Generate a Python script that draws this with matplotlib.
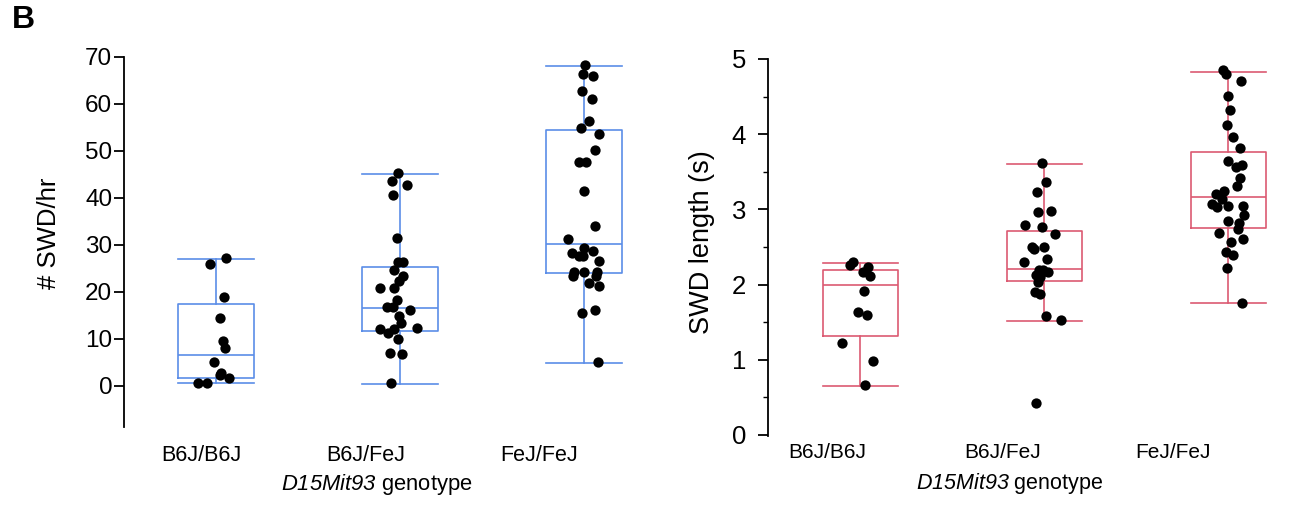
"""
SWD count / length by D15Mit93 genotype (panel B)
"""
import matplotlib
matplotlib.use("Agg")
import matplotlib.pyplot as plt
import numpy as np

plt.rcParams["font.family"] = ["Liberation Sans", "DejaVu Sans"]
plt.rcParams["mathtext.fontset"] = "custom"
plt.rcParams["mathtext.sf"] = "Liberation Sans:italic"
plt.rcParams["mathtext.rm"] = "Liberation Sans"

W, H, DPI = 1290, 507, 100

BLUE = "#5b8de8"
RED = "#dc5a72"

genotypes = ["B6J/B6J", "B6J/FeJ", "FeJ/FeJ"]

# ---- # SWD/hr ------------------------------------------------------------
rate_b6b6 = [27.1, 25.9, 18.9, 14.5, 9.6, 8.0, 5.0, 2.8, 2.4, 1.6, 0.6, 0.6]
rate_b6fe = [45.2, 43.6, 42.8, 40.5, 31.4, 26.3, 26.3, 24.6, 23.4, 22.3, 20.9,
             20.9, 18.2, 16.8, 16.8, 16.1, 14.8, 13.4, 12.1, 12.0, 12.3, 11.3,
             9.9, 7.0, 6.8, 0.5]
rate_fefe = [68.2, 66.3, 66.0, 62.7, 61.1, 56.4, 54.9, 53.6, 50.1, 47.6, 47.6,
             41.5, 34.0, 31.2, 29.3, 28.3, 28.7, 27.6, 27.6, 26.5, 24.3, 24.3,
             24.3, 23.3, 23.3, 21.9, 21.2, 15.4, 16.1, 5.0]
# horizontal jitter as seen in the figure (category units)
rate_jit_b6b6 = [0.054, -0.033, 0.045, 0.022, 0.040, 0.050, -0.011, 0.025,
                 0.022, 0.069, -0.098, -0.050]
rate_jit_b6fe = [-0.012, -0.043, 0.037, -0.039, -0.014, -0.010, 0.019, -0.035,
                 0.019, -0.003, -0.106, -0.034, -0.015, -0.068, -0.039, 0.057,
                 -0.006, 0.006, -0.111, -0.030, 0.090, -0.066, -0.012, -0.057,
                 0.010, -0.048]
rate_jit_fefe = [0.005, -0.005, 0.050, -0.010, 0.043, 0.026, -0.019, 0.081,
                 0.061, -0.028, 0.012, -0.001, 0.062, -0.088, -0.001, -0.064,
                 0.050, -0.028, -0.003, 0.079, -0.052, -0.001, 0.072, -0.061,
                 0.066, 0.026, 0.079, -0.012, 0.061, 0.075]
# box stats: whisker low, q1, median, q3, whisker high
rate_whislo = [0.7, 0.4, 4.9]
rate_q1 = [1.6, 11.7, 24.0]
rate_med = [6.6, 16.5, 30.1]
rate_q3 = [17.5, 25.3, 54.4]
rate_whishi = [26.9, 45.0, 68.0]

# ---- SWD length (s) ------------------------------------------------------
len_b6b6 = [2.30, 2.26, 2.24, 2.17, 2.11, 1.92, 1.63, 1.59, 1.22, 0.99, 0.66]
len_b6fe = [3.62, 3.36, 3.23, 2.97, 2.98, 2.79, 2.76, 2.67, 2.50, 2.50, 2.47,
            2.34, 2.30, 2.20, 2.19, 2.17, 2.13, 2.10, 2.03, 1.90, 1.88, 1.58,
            1.53, 0.43, 2.15, 2.18]
len_fefe = [4.86, 4.80, 4.71, 4.51, 4.32, 4.12, 3.96, 3.82, 3.64, 3.57, 3.59,
            3.42, 3.31, 3.21, 3.24, 3.14, 3.07, 3.03, 3.05, 3.05, 2.92, 2.84,
            2.82, 2.74, 2.68, 2.56, 2.60, 2.43, 2.39, 2.22, 1.76]
len_jit_b6b6 = [-0.041, -0.055, 0.043, 0.017, 0.050, 0.021, -0.015, 0.037,
                -0.100, 0.068, 0.026]
len_jit_b6fe = [-0.013, 0.011, -0.042, -0.036, 0.036, -0.103, -0.011, 0.058,
                -0.069, -0.004, -0.055, 0.016, -0.112, -0.029, -0.007, 0.018,
                -0.043, -0.022, -0.034, -0.051, -0.022, 0.007, 0.091, -0.047,
                -0.016, -0.025]
len_jit_fefe = [-0.030, -0.012, 0.068, -0.001, 0.007, -0.006, 0.028, 0.061,
                -0.001, 0.043, 0.075, 0.064, 0.048, -0.066, -0.022, -0.033,
                -0.088, -0.059, -0.003, 0.079, 0.083, -0.001, 0.057, 0.054,
                -0.051, 0.016, 0.079, -0.012, 0.025, -0.006, 0.075]
len_whislo = [0.65, 1.52, 1.76]
len_q1 = [1.31, 2.05, 2.75]
len_med = [2.00, 2.21, 3.16]
len_q3 = [2.20, 2.71, 3.76]
len_whishi = [2.29, 3.60, 4.83]


def box_stats(lo, q1, med, q3, hi):
    return [dict(whislo=a, q1=b, med=c, q3=d, whishi=e, fliers=[])
            for a, b, c, d, e in zip(lo, q1, med, q3, hi)]


def draw_panel(ax, stats, groups, jitters, color):
    pos = np.arange(1, len(stats) + 1)
    lp = dict(color=color, linewidth=1.2)
    ax.bxp(stats, positions=pos, widths=0.41, capwidths=0.41,
           showfliers=False, boxprops=lp, whiskerprops=lp, capprops=lp,
           medianprops=lp, manage_ticks=False)
    for p, vals, jit in zip(pos, groups, jitters):
        ax.scatter(p + np.array(jit), vals, s=55, color="black",
                   linewidths=0, zorder=3)
    for s in ("top", "right", "bottom"):
        ax.spines[s].set_visible(False)
    ax.spines["left"].set_linewidth(1.3)


XLABEL = r"$\mathsf{D15Mit93}$ genotype"

fig = plt.figure(figsize=(W / DPI, H / DPI), dpi=DPI, facecolor="white")

# ---- left panel ----
ax1 = fig.add_axes([124 / W, 1 - 426.7 / H, 552 / W, 370 / H])
draw_panel(ax1,
           box_stats(rate_whislo, rate_q1, rate_med, rate_q3, rate_whishi),
           [rate_b6b6, rate_b6fe, rate_fefe],
           [rate_jit_b6b6, rate_jit_b6fe, rate_jit_fefe], BLUE)
ax1.set_xlim(0.5, 3.5)
ax1.set_ylim(-8.7, 70)
ax1.set_yticks(np.arange(0, 71, 10))
ax1.tick_params(axis="y", labelsize=17.5, length=7, width=1.3, pad=1.5)
ax1.set_xticks([0.922, 1.815, 2.755])
ax1.set_xticklabels(genotypes, fontsize=15.5)
ax1.tick_params(axis="x", length=0, pad=13)
ax1.set_ylabel("# SWD/hr", fontsize=18.5)
ax1.yaxis.set_label_coords(-0.115, 0.523)
ax1.set_xlabel(XLABEL, fontsize=15.8)
ax1.xaxis.set_label_coords(0.458, -0.122)

# ---- right panel ----
ax2 = fig.add_axes([768.3 / W, 1 - 436.5 / H, (W - 768.3) / W, 377.5 / H])
draw_panel(ax2,
           box_stats(len_whislo, len_q1, len_med, len_q3, len_whishi),
           [len_b6b6, len_b6fe, len_fefe],
           [len_jit_b6b6, len_jit_b6fe, len_jit_fefe], RED)
ax2.set_xlim(0.5, 0.5 + (W - 768.3) / 184)
ax2.set_ylim(-0.02, 5)
ax2.set_yticks(np.arange(0, 6, 1))
ax2.set_yticks(np.arange(0.5, 5, 1), minor=True)
ax2.tick_params(axis="y", which="major", labelsize=18.5, length=7, width=1.3, pad=9)
ax2.tick_params(axis="y", which="minor", length=3.5, width=1.0)
ax2.set_xticks([0.823, 1.774, 2.70])
ax2.set_xticklabels(genotypes, fontsize=15)
ax2.tick_params(axis="x", length=0, pad=5)
ax2.set_ylabel("SWD length (s)", fontsize=19.5)
ax2.yaxis.set_label_coords(-0.102, 0.515)
ax2.set_xlabel(XLABEL, fontsize=15.5)
ax2.xaxis.set_label_coords(0.463, -0.091)

fig.text(12 / W, 1 - 20 / H, "B", fontsize=23, fontweight="bold",
         ha="left", va="center")

fig.savefig("out.png", dpi=DPI, facecolor="white")
plt.close(fig)
